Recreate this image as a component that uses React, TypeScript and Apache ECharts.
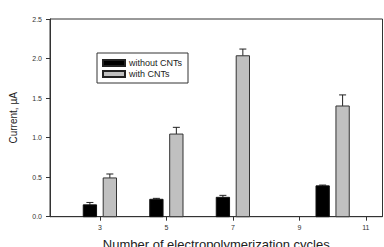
import React, { useEffect, useRef } from "react";
import * as echarts from "echarts";

const cycles = [3, 5, 7, 10];
const withoutCNTs = [0.15, 0.22, 0.245, 0.39];
const withoutErr = [0.03, 0.012, 0.025, 0.01];
const withCNTs = [0.49, 1.045, 2.035, 1.4];
const withErr = [0.05, 0.085, 0.085, 0.14];
const xTicks = [3, 5, 7, 9, 11];
const seriesNames = ["without CNTs", "with CNTs"];

const OFFSET = 0.3;
const BAR_W = 0.4;
const FONT = "Liberation Sans, Arial, sans-serif";

function barItem(offset: number, fill: string, stroke: string) {
  return (params: any, api: any) => {
    const x = api.value(0) + offset;
    const v = api.value(1);
    const e = api.value(2);
    const top = api.coord([x, v]);
    const base = api.coord([x, 0]);
    const w = api.size([BAR_W, 0])[0];
    const errTop = api.coord([x, v + e]);
    return {
      type: "group",
      children: [
        {
          type: "line",
          shape: { x1: top[0], y1: top[1], x2: top[0], y2: errTop[1] },
          style: { stroke: "#222", lineWidth: 1 },
        },
        {
          type: "line",
          shape: { x1: top[0] - 3.5, y1: errTop[1], x2: top[0] + 3.5, y2: errTop[1] },
          style: { stroke: "#222", lineWidth: 1 },
        },
        {
          type: "rect",
          shape: { x: top[0] - w / 2, y: top[1], width: w, height: base[1] - top[1] },
          style: { fill, stroke, lineWidth: 1 },
        },
      ],
    };
  };
}

export default function App() {
  const ref = useRef<HTMLDivElement>(null);
  useEffect(() => {
    const chart = echarts.init(ref.current!, undefined, { renderer: "svg" });
    chart.setOption({
      animation: false,
      backgroundColor: "#fff",
      textStyle: { fontFamily: FONT },
      grid: {
        left: 50,
        right: 1.5,
        top: 19,
        bottom: 30.3,
        outerBoundsMode: "none",
        containLabel: false,
        show: true,
        borderColor: "#333",
        borderWidth: 1,
      },
      legend: {
        left: 97,
        top: 53,
        orient: "vertical",
        borderColor: "#333",
        borderWidth: 1,
        padding: [5, 6, 4, 5],
        itemWidth: 22,
        itemHeight: 6,
        itemGap: 1,
        icon: "rect",
        textStyle: { fontSize: 9, color: "#222", fontFamily: FONT, lineHeight: 10, padding: [0, 0, 0, -1] },
        data: seriesNames,
      },
      xAxis: {
        type: "value",
        min: 1.5,
        max: 11.5,
        splitLine: { show: false },
        axisLine: { lineStyle: { color: "#333" } },
        axisTick: { show: true, length: 4, customValues: xTicks, lineStyle: { color: "#333" } },
        axisLabel: { customValues: xTicks, fontSize: 7, color: "#333", margin: 7 },
        name: "Number of electropolymerization cycles",
        nameLocation: "middle",
        nameGap: 21,
        nameTextStyle: { fontSize: 13, color: "#222", fontFamily: FONT },
      },
      yAxis: {
        type: "value",
        min: 0,
        max: 2.5,
        interval: 0.5,
        splitLine: { show: false },
        axisLine: { show: true, lineStyle: { color: "#333" } },
        axisTick: { show: true, length: 4, lineStyle: { color: "#333" } },
        axisLabel: { fontSize: 7, color: "#333", margin: 8, formatter: (v: number) => v.toFixed(1) },
        name: "Current, µA",
        nameLocation: "middle",
        nameGap: 32,
        nameTextStyle: { fontSize: 10, color: "#222", fontFamily: FONT },
      },
      series: [
        {
          name: seriesNames[0],
          type: "custom",
          itemStyle: { color: "#000", borderColor: "#222", borderWidth: 1 },
          data: cycles.map((c, i) => [c, withoutCNTs[i], withoutErr[i]]),
          encode: { x: 0, y: 1 },
          renderItem: barItem(-OFFSET, "#000", "#111"),
        },
        {
          name: seriesNames[1],
          type: "custom",
          itemStyle: { color: "#c0c0c0", borderColor: "#222", borderWidth: 1 },
          data: cycles.map((c, i) => [c, withCNTs[i], withErr[i]]),
          encode: { x: 0, y: 1 },
          renderItem: barItem(OFFSET, "#c0c0c0", "#333"),
        },
      ],
    });
    return () => chart.dispose();
  }, []);
  return <div ref={ref} style={{ width: 384, height: 247, position: "absolute", left: 0, top: 0 }} />;
}
